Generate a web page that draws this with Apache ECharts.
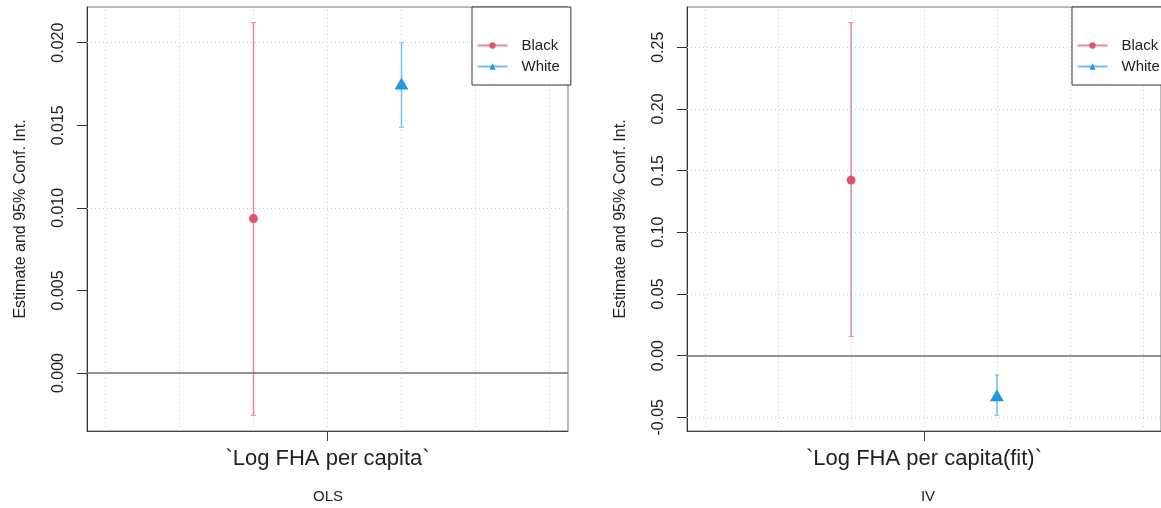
<!DOCTYPE html>
<html>
<head>
<meta charset="utf-8">
<script src="https://cdn.jsdelivr.net/npm/echarts@6/dist/echarts.min.js"></script>
<style>
  html, body { margin: 0; padding: 0; background: #fff; }
  #chart { width: 1161px; height: 508px; }
</style>
</head>
<body>
<div id="chart"></div>
<script>
// ---- data ----
const groups = ['Black', 'White'];
const panelTitles = ['OLS', 'IV'];
const termLabels = ['`Log FHA per capita`', '`Log FHA per capita(fit)`'];
const olsEstimate = [0.00935, 0.01753];
const olsLower = [-0.00256, 0.01488];
const olsUpper = [0.02121, 0.02000];
const ivEstimate = [0.1423, -0.0322];
const ivLower = [0.0154, -0.0484];
const ivUpper = [0.2699, -0.0157];
const olsTicks = [0, 0.005, 0.010, 0.015, 0.020];
const ivTicks = [-0.05, 0, 0.05, 0.10, 0.15, 0.20, 0.25];
const xGridValues = [-3, -2, -1, 0, 1, 2, 3];

// ---- styles ----
const pointColors = ['#DF536B', '#2297E6'];
const lineColors = ['#E98797', '#76BEEF'];
const symbols = ['circle', 'triangle'];
const symbolSizes = [9, [14, 12]];
const FONT = 'Liberation Sans, Arial, Helvetica, sans-serif';

const panels = [
  { est: olsEstimate, lo: olsLower, hi: olsUpper, ticks: olsTicks, dec: 3, left: 87 },
  { est: ivEstimate, lo: ivLower, hi: ivUpper, ticks: ivTicks, dec: 2, left: 687 }
];

function paddedRange(lo, hi) {
  const mn = Math.min(...lo), mx = Math.max(...hi);
  const pad = (mx - mn) * 0.04;
  return [mn - pad, mx + pad];
}

const grids = [], xAxes = [], yAxes = [], series = [], legends = [], graphics = [];

panels.forEach((p, pi) => {
  grids.push({ left: p.left, top: 7, width: 481, height: 424, show: true,
    borderColor: '#777', borderWidth: 1, backgroundColor: 'transparent', containLabel: false });
  const yr = paddedRange(p.lo, p.hi);
  xAxes.push({
    type: 'value', gridIndex: pi, min: -3.25, max: 3.25,
    name: termLabels[pi], nameLocation: 'middle', nameGap: 17,
    nameTextStyle: { fontSize: 22, color: '#222', fontFamily: FONT },
    axisLine: { show: true, onZero: false, lineStyle: { color: '#444', width: 1 } },
    axisTick: { show: true, customValues: [0], length: 10, inside: false, lineStyle: { color: '#444' } },
    axisLabel: { show: false, customValues: [0] },
    splitLine: { show: false }
  });
  yAxes.push({
    type: 'value', gridIndex: pi, min: yr[0], max: yr[1],
    name: 'Estimate and 95% Conf. Int.', nameLocation: 'middle', nameGap: 58, nameRotate: 90,
    nameTextStyle: { fontSize: 16, color: '#222', fontFamily: FONT },
    axisLine: { show: true, onZero: false, lineStyle: { color: '#333', width: 1 } },
    axisTick: { show: true, customValues: p.ticks, length: 10, lineStyle: { color: '#333' } },
    axisLabel: { show: true, customValues: p.ticks, rotate: 90, margin: 20, fontSize: 16, color: '#222',
      fontFamily: FONT, formatter: v => Number(v).toFixed(p.dec) },
    splitLine: { show: false }
  });
  const gl = [];
  xGridValues.forEach(v => gl.push({ xAxis: v }));
  p.ticks.filter(t => t !== 0).forEach(t => gl.push({ yAxis: t }));
  series.push({
    type: 'line', xAxisIndex: pi, yAxisIndex: pi, data: [], silent: true, z: 1,
    markLine: { z: 1, silent: true, symbol: 'none', label: { show: false }, animation: false,
      lineStyle: { color: '#cccccc', type: [1, 3], width: 1 }, data: gl }
  });
  series.push({
    type: 'line', xAxisIndex: pi, yAxisIndex: pi, data: [], silent: true, z: 5,
    markLine: { z: 5, silent: true, symbol: 'none', label: { show: false }, animation: false,
      lineStyle: { color: '#6e6e6e', type: 'solid', width: 1.6 }, data: [{ yAxis: 0 }] }
  });
  groups.forEach((g, gi) => {
    const x = (gi - (groups.length - 1) / 2) * 2;
    series.push({
      type: 'line', xAxisIndex: pi, yAxisIndex: pi, z: 3, silent: true,
      data: [[x, p.lo[gi]], [x, p.hi[gi]]],
      symbol: 'rect', symbolSize: [5, 1], showSymbol: true,
      lineStyle: { color: lineColors[gi], width: 1.5 },
      itemStyle: { color: lineColors[gi], borderWidth: 0 }
    });
    series.push({
      type: 'line', name: g, xAxisIndex: pi, yAxisIndex: pi, z: 4,
      data: [[x, p.est[gi]]],
      symbol: symbols[gi], symbolSize: symbolSizes[gi], showSymbol: true,
      lineStyle: { color: lineColors[gi], width: 1.5 },
      itemStyle: { color: pointColors[gi], borderWidth: 0, opacity: 1 }
    });
  });
  legends.push({
    data: groups, orient: 'vertical', left: p.left + 385, top: 7,
    itemWidth: 30, itemHeight: 8, itemGap: 6,
    padding: [31, 11, 11, 4.5],
    backgroundColor: '#fff', borderColor: '#333', borderWidth: 1, borderRadius: 0,
    selectedMode: false, z: 20,
    textStyle: { fontSize: 15, lineHeight: 14, color: '#222', fontFamily: FONT, padding: [0, 0, 0, 9] }
  });
  graphics.push({
    x: p.left + 241, y: 497,
    style: { text: panelTitles[pi], x: 0, y: 0, textAlign: 'center', textVerticalAlign: 'middle',
      fontSize: 15, fill: '#222', fontFamily: FONT }
  });
});

const chart = echarts.init(document.getElementById('chart'), null, { renderer: 'canvas' });
chart.setOption({
  animation: false,
  backgroundColor: '#fff',
  textStyle: { fontFamily: FONT },
  grid: grids, xAxis: xAxes, yAxis: yAxes, series: series, legend: legends,
  graphic: graphics.map(g => ({ type: 'text', x: g.x, y: g.y, style: g.style, z: 30 }))
});
</script>
</body>
</html>
